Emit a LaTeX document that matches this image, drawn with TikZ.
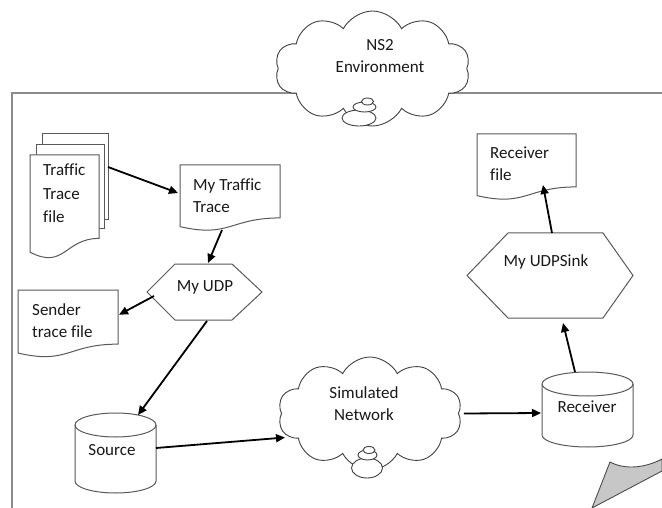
\documentclass[tikz,border=0pt]{standalone}
\usepackage{fontspec}
\setmainfont[Ligatures=CommonOff]{Carlito}
\usetikzlibrary{shapes.symbols,arrows.meta,calc}

% flowchart "document" outline drawn on the bounding box of a node
\newcommand\docoutline[1]{%
  \draw[shapeline] (#1.north west) -- (#1.north east)
    -- ($(#1.north east)!0.802!(#1.south east)$)
    .. controls ($(#1.north)!0.802!(#1.south)$) and ($(#1.north)!1.107!(#1.south)$)
    .. ($(#1.north west)!0.934!(#1.south west)$) -- cycle;}
% stretched hexagon: node, left inset, right inset
\newcommand\hexoutline[3]{%
  \draw[shapeline] (#1.west) -- ([xshift=#2]#1.north west) -- ([xshift=-#3]#1.north east)
    -- (#1.east) -- ([xshift=-#3]#1.south east) -- ([xshift=#2]#1.south west) -- cycle;}
% upright cylinder: node, x radius, y radius of the end ellipses
\newcommand\cyloutline[3]{%
  \draw[shapeline] ([yshift=-#3]#1.north west) -- ([yshift=#3]#1.south west)
    arc[start angle=180, end angle=360, x radius=#2, y radius=#3]
    -- ([yshift=-#3]#1.north east)
    arc[start angle=0, end angle=180, x radius=#2, y radius=#3] -- cycle;
  \draw[shapeline, fill=none] ([yshift=-#3]#1.north west)
    arc[start angle=180, end angle=360, x radius=#2, y radius=#3];}

\begin{document}
\begin{tikzpicture}[x=1pt, y=-1pt,
  txt/.style={font=\fontsize{17}{22}\selectfont, text=black!90, inner sep=0pt},
  area/.style 2 args={inner sep=0pt, outer sep=0pt, minimum width=#1, minimum height=#2},
  shapeline/.style={draw=black!65, line width=1pt, fill=white},
  frameline/.style={draw=black!45, line width=1.6pt},
  flow/.style={draw=black, line width=1.8pt, -{Triangle[length=9pt,width=8pt]}},
  puffy/.style={cloud, cloud puffs=10, cloud puff arc=125, cloud ignores aspect,
    draw=black!75, line width=0.9pt, fill=white, inner sep=0pt},
  bubble/.style={draw=black!75, line width=0.9pt, fill=white}]
\useasboundingbox (0,0) rectangle (662,508);

% environment frame
\draw[frameline] (662,93) -- (12,93) -- (12,508);

% NS2 environment cloud
\node[puffy, minimum width=195pt, minimum height=115pt] (ns2) at (372.5,68.5) {};
\draw[bubble] (359,118) ellipse [x radius=17pt, y radius=8pt];
\draw[bubble] (364.5,107) ellipse [x radius=11.5pt, y radius=5pt];
\draw[bubble] (367.5,101.5) ellipse [x radius=6pt, y radius=3.5pt];
\node[txt, align=center] (ns2t) at (380,56.5) {NS2\\Environment};

% traffic trace files (stacked documents)
\node[area={69pt}{104pt}] (ttf) at (64.5,207) {};
\draw[shapeline] ([shift={(12,-10)}]ttf.north west) -- ++(0,-11) -- ++(66,0) -- ++(0,86) -- ++(-4,0);
\draw[shapeline] ([shift={(6,0)}]ttf.north west) -- ++(0,-10) -- ++(68,0) -- ++(0,84) -- ++(-5,0);
\docoutline{ttf}
\node[txt, align=left, anchor=west, font=\fontsize{17}{23.5}\selectfont] (ttft) at (43,193.5) {Traffic\\Trace\\file};

% my traffic trace
\node[area={100pt}{66pt}] (mtt) at (230,198) {};
\docoutline{mtt}
\node[txt, align=left, anchor=west] (mttt) at (193,195.5) {My Traffic\\Trace};

% my UDP agent
\node[area={115pt}{56pt}] (udp) at (204.5,292) {};
\hexoutline{udp}{28pt}{30pt}
\node[txt] (udpt) at (205,287) {My UDP};

% sender trace file
\node[area={100pt}{67.5pt}] (stf) at (68,323.75) {};
\docoutline{stf}
\node[txt, align=left, anchor=west] (stft) at (32,320.5) {Sender\\trace file};

% source
\node[area={81pt}{80pt}] (src) at (115.5,453) {};
\cyloutline{src}{40.5pt}{12pt}
\node[txt] (srct) at (112,450) {Source};

% simulated network cloud
\node[puffy, minimum width=184pt, minimum height=113pt] (net) at (370,413.5) {};
\draw[bubble] (367,468) ellipse [x radius=15.5pt, y radius=10pt];
\draw[bubble] (367.5,455) ellipse [x radius=9.5pt, y radius=5pt];
\draw[bubble] (369,450) ellipse [x radius=6pt, y radius=3.5pt];
\node[txt, align=center] (nett) at (364,404) {Simulated\\Network};

% receiver
\node[area={91pt}{75pt}] (rcv) at (587.5,409.5) {};
\cyloutline{rcv}{45.5pt}{12pt}
\node[txt] (rcvt) at (587,407) {Receiver};

% my UDP sink
\node[area={166pt}{85pt}] (sink) at (550,275.5) {};
\hexoutline{sink}{41pt}{30pt}
\node[txt] (sinkt) at (546,262) {My UDPSink};

% receiver file
\node[area={99pt}{66pt}] (rfile) at (526.5,167) {};
\docoutline{rfile}
\node[txt, align=left, anchor=west] (rfilet) at (490,164) {Receiver\\file};

% data flow
\draw[flow] ($(ttf.north east)+(9,12)$) -- ($(mtt.west)+(-2,-5)$);
\draw[flow] ($(mtt.south)+(-8,-1)$) -- ($(udp.north)+(3.5,-1)$);
\draw[flow] ($(udp.west)+(7,4)$) -- ($(stf.east)+(1,-9)$);
\draw[flow] ($(udp.south)+(2.5,1)$) -- ($(src.north)+(22.5,2)$);
\draw[flow] ($(src.east)+(0,-5)$) -- ($(net.center)+(-85,24)$);
\draw[flow] ($(net.east)+(5,0)$) -- ($(rcv.west)+(-1,3.5)$);
\draw[flow] ($(rcv.north)+(-12.5,0)$) -- ($(sink.south)+(13,5)$);
\draw[flow] ($(sink.north)+(2,0)$) -- ($(rfile.south)+(16.5,-15)$);

% folded page corner
\draw[draw=black!70, line width=0.9pt, fill=black!22]
  (592,508) -- (610,462) .. controls (625,470) and (645,468) .. (662,459) -- (662,471) -- cycle;
\end{tikzpicture}
\end{document}
